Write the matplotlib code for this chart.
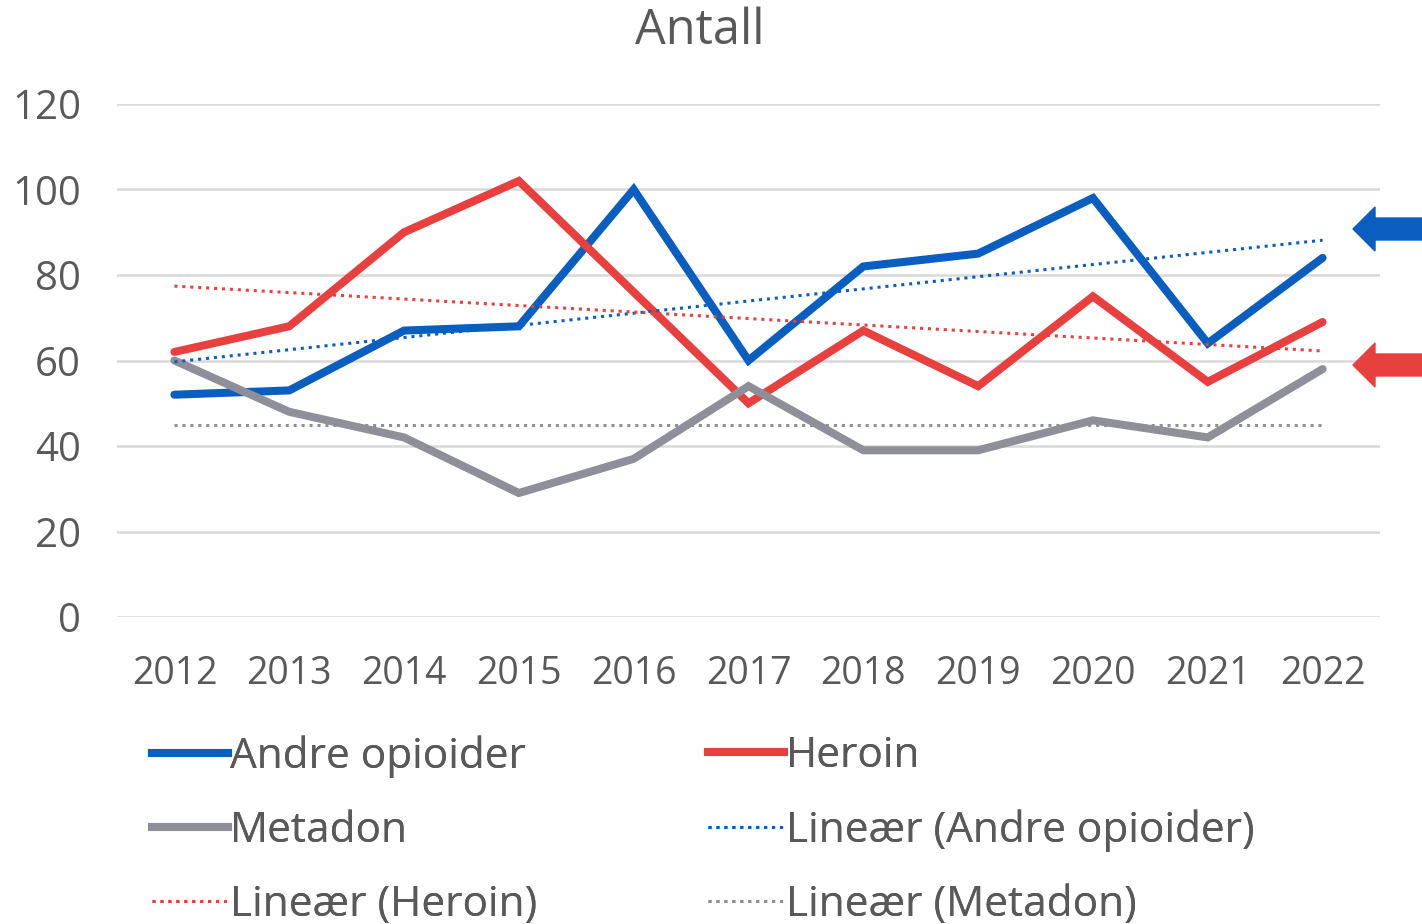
import numpy as np
import matplotlib
matplotlib.use("Agg")
import matplotlib.pyplot as plt
from matplotlib.patches import Polygon
from matplotlib.lines import Line2D

years = ["2012", "2013", "2014", "2015", "2016", "2017", "2018", "2019", "2020", "2021", "2022"]
andre = [52, 53, 67, 68, 100, 60, 82, 85, 98, 64, 84]
heroin = [62, 68, 90, 102, 76, 50, 67, 54, 75, 55, 69]
metadon = [60, 48, 42, 29, 37, 54, 39, 39, 46, 42, 58]
yticks = [0, 20, 40, 60, 80, 100, 120]

c_blue = "#0A5EC0"
c_red = "#E8403F"
c_gray = "#8F8F99"
txt = "#595959"

plt.rcParams['font.family'] = ['Open Sans', 'DejaVu Sans']

W, H = 1422, 924
fig = plt.figure(figsize=(W/100, H/100), dpi=100)
ax = fig.add_axes([117/W, 1-617/H, (1380-117)/W, (617-104)/H])

x = np.arange(len(years))
lw = 5.8
dot = (0, (1, 1.6))
ax.plot(x, andre, color=c_blue, lw=lw, solid_capstyle='round', solid_joinstyle='miter', zorder=3)
ax.plot(x, heroin, color=c_red, lw=lw, solid_capstyle='round', solid_joinstyle='miter', zorder=3)
ax.plot(x, metadon, color=c_gray, lw=lw, solid_capstyle='round', solid_joinstyle='miter', zorder=3)

for series, col in [(andre, c_blue), (heroin, c_red), (metadon, c_gray)]:
    k, b = np.polyfit(x, series, 1)
    ax.plot(x, k*x+b, color=col, lw=2.2, ls=dot, zorder=4)

ax.set_xlim(-0.5, len(years)-0.5)
ax.set_ylim(0, 120)
ax.set_yticks(yticks)
ax.set_xticks(x)
ax.set_xticklabels(years)
ax.tick_params(length=0, colors=txt)
ax.tick_params(axis='x', labelsize=27, pad=27)
ax.tick_params(axis='y', labelsize=29, pad=26)
ax.grid(axis='y', color='#D9D9D9', lw=1.8)
ax.set_axisbelow(True)
for s in ax.spines.values():
    s.set_visible(False)

fig.text(700/W, 1-31/H, "Antall", ha='center', va='center', fontsize=35, color=txt)

col1 = ([Line2D([], [], color=c_blue, lw=lw),
         Line2D([], [], color=c_gray, lw=lw),
         Line2D([], [], color=c_red, lw=2.2, ls=dot)],
        ["Andre opioider", "Metadon", "Lineær (Heroin)"])
col2 = ([Line2D([], [], color=c_red, lw=lw),
         Line2D([], [], color=c_blue, lw=2.2, ls=dot),
         Line2D([], [], color=c_gray, lw=2.2, ls=dot)],
        ["Heroin", "Lineær (Andre opioider)", "Lineær (Metadon)"])
for (hs, ls), xs in [(col1, 152), (col2, 708)]:
    leg = fig.legend(hs, ls, ncol=1, loc='upper left', bbox_to_anchor=(xs/W, 1-735/H),
                     frameon=False, fontsize=30.5, handlelength=1.8, handletextpad=0.05,
                     labelspacing=0.76, borderaxespad=0, borderpad=0)
    for t in leg.get_texts():
        t.set_color(txt)
    fig.add_artist(leg)

def arrow(yc, col):
    tip = 1353
    base = 1375
    pts = [(tip, yc), (base, yc-22), (base, yc-11), (W+5, yc-11), (W+5, yc+11), (base, yc+11), (base, yc+22)]
    pts = [(px/W, 1-py/H) for px, py in pts]
    fig.patches.append(Polygon(pts, closed=True, color=col, transform=fig.transFigure))

arrow(229, c_blue)
arrow(365, c_red)

fig.savefig("out.png", dpi=100, facecolor='white')
